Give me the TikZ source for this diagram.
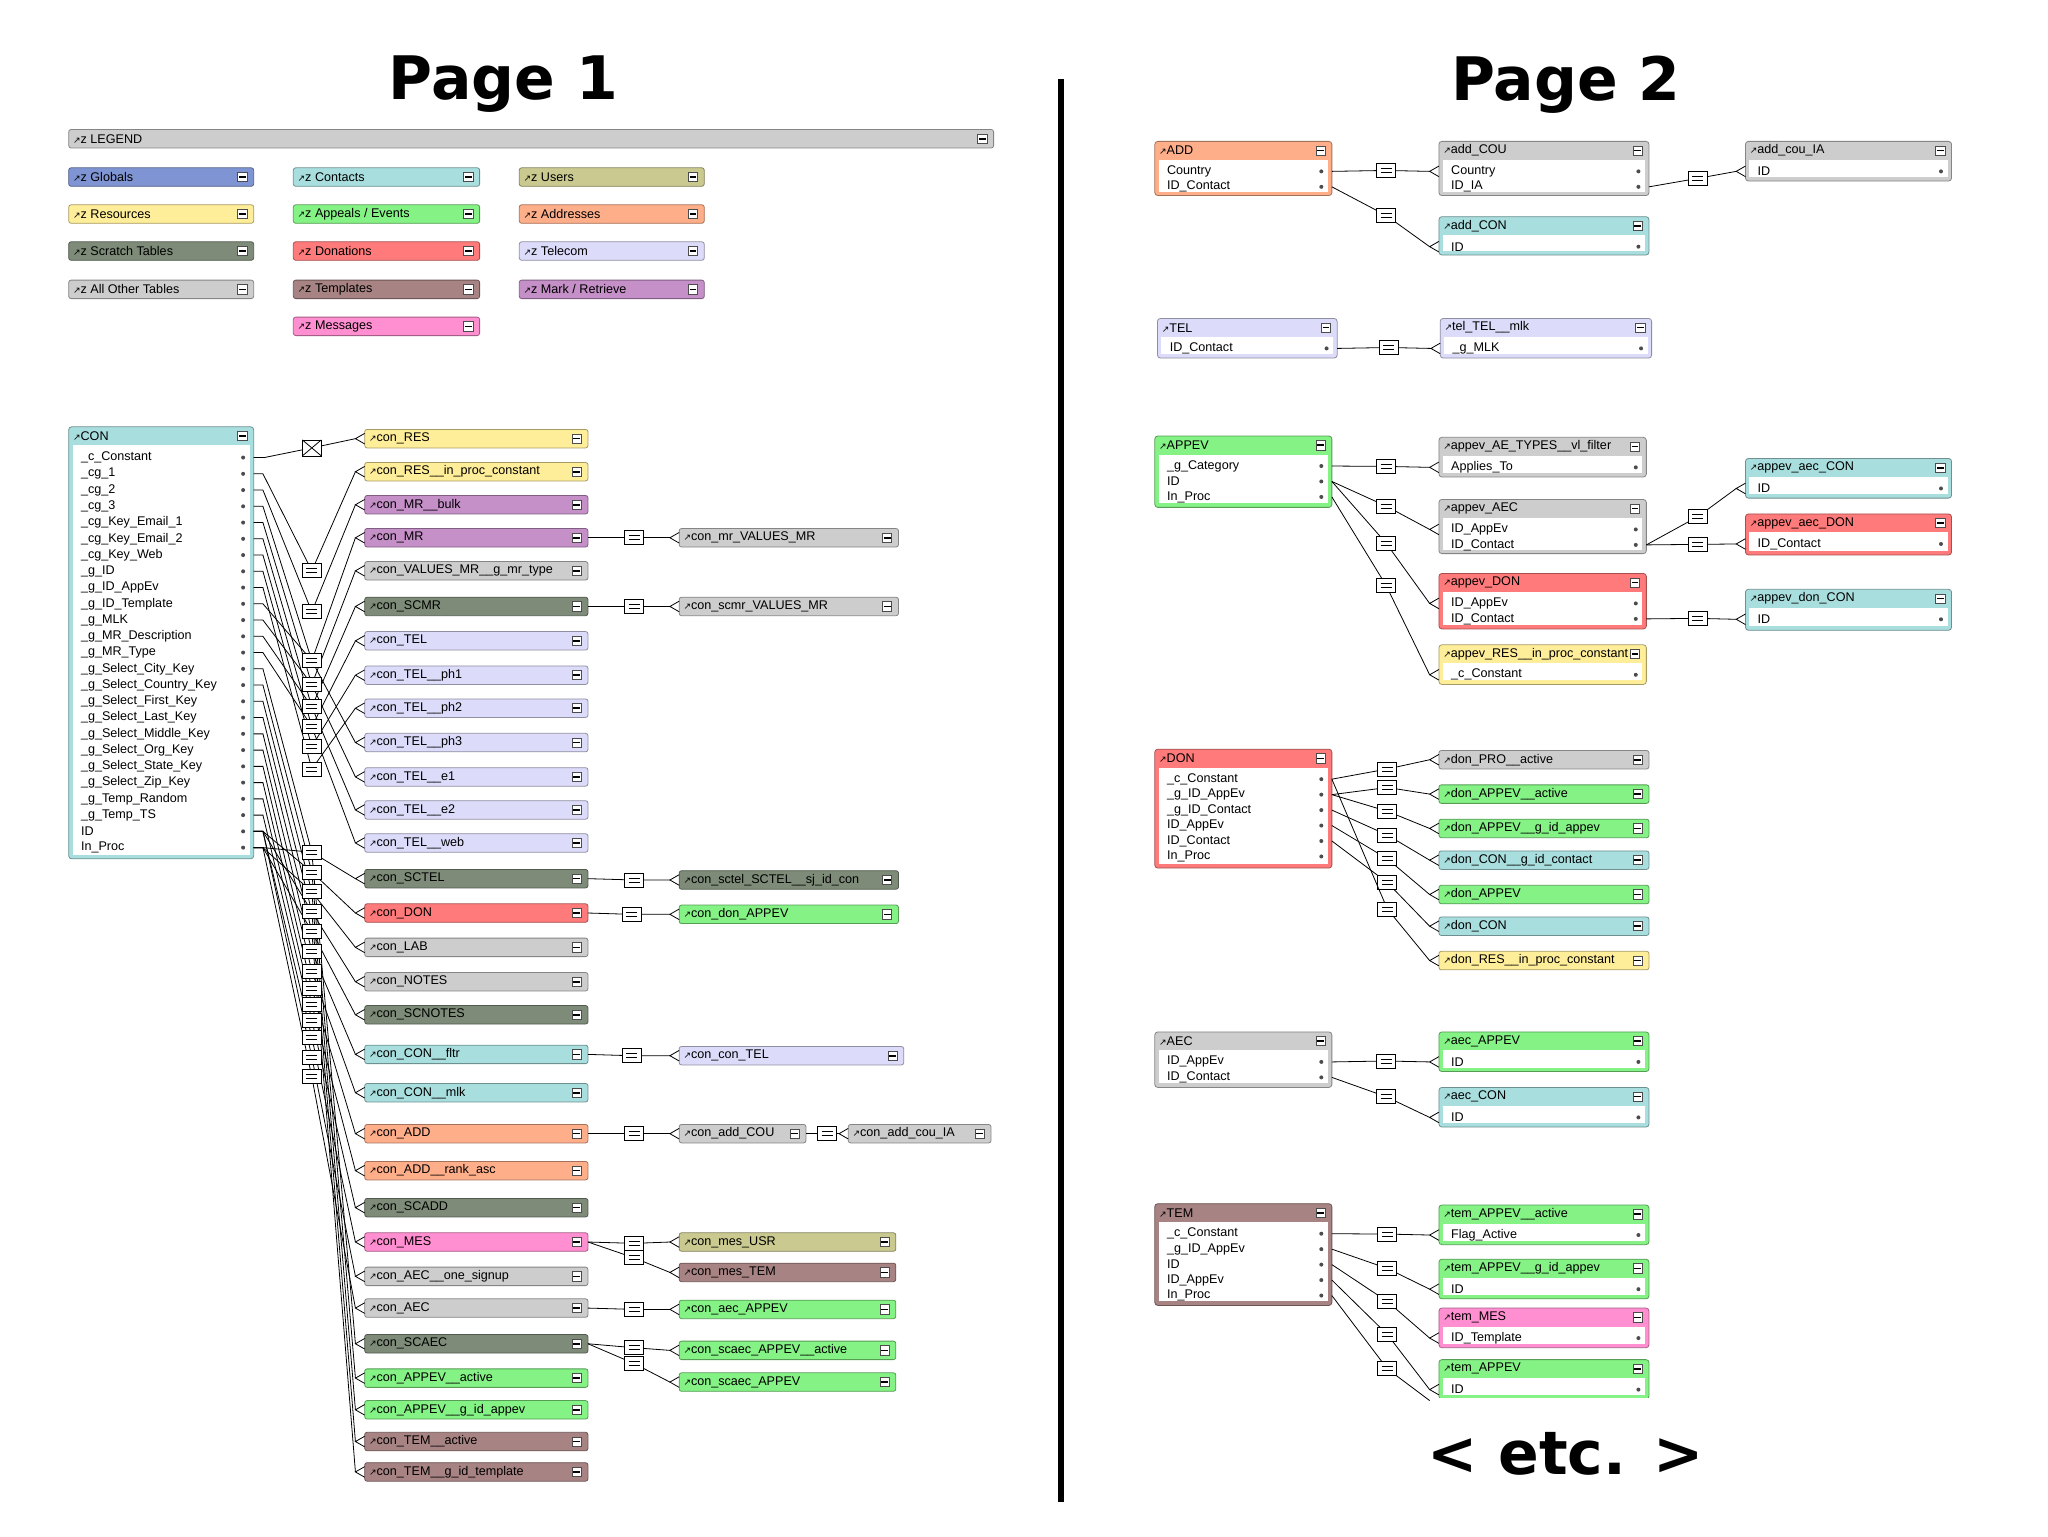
\documentclass[tikz,border=0pt]{standalone}
\usepackage{fontspec}
\usetikzlibrary{calc}
\setmainfont{Liberation Sans}
\newfontfamily\symf{DejaVu Sans}
\catcode`\_=12
\definecolor{cyn}{HTML}{A9DEDE}
\definecolor{yel}{HTML}{FFEE99}
\definecolor{pur}{HTML}{C58FC8}
\definecolor{gry}{HTML}{CDCDCD}
\definecolor{scr}{HTML}{7D8B78}
\definecolor{tel}{HTML}{DCDCFA}
\definecolor{red}{HTML}{FF7A7A}
\definecolor{grn}{HTML}{84F284}
\definecolor{org}{HTML}{FFAE8A}
\definecolor{brn}{HTML}{A88383}
\definecolor{pnk}{HTML}{FF8FD0}
\definecolor{olv}{HTML}{CACA90}
\definecolor{glb}{HTML}{7F95D3}
\newcommand\arr{{\symf\fontsize{4.5}{4.5}\selectfont ↗}}
\newcommand\tf{\fontsize{6.3}{7}\selectfont}
\def\fsp{11.7}
\newcommand\minb[2]{\draw[black!70,fill=white] (#1-12,#2-3.5) rectangle (#1-5,#2+3.5);
 \draw[line width=0.8pt] (#1-11,#2) -- (#1-6,#2);}
\newcommand\crow[1]{\draw ($(#1)+(7,-4)$) -- (#1) -- ($(#1)+(7,4)$);}
\newcommand\hdr[6]{%
 \draw[draw=#5!65!black,fill=#5,rounded corners=1.2pt] (#2,#3-7) rectangle (#4,#3+7);
 \node[txt] (#1) at (#2+3,#3) {\arr#6};
 \minb{#4}{#3}
 \coordinate (#1-w) at (#2-7,#3); \coordinate (#1-e) at (#4,#3);}
\newcommand\tbl[8]{%
 \draw[draw=#6!65!black,fill=#6,rounded corners=1.5pt] (#2,#3) rectangle (#4,#5);
 \fill[white] (#2+3,#3+14) rectangle (#4-3,#5-3);
 \node[txt] (#1) at (#2+3,#3+7) {\arr#7};
 \minb{#4}{#3+7}
 \foreach \f [count=\n] in {#8} {
  \node[txt] at (#2+9,#3+11+\n*\fsp) {\f};
  \fill[black!70] (#4-8,#3+11+\n*\fsp) circle (1pt);
  \coordinate (#1-f\n) at (#4,#3+11+\n*\fsp);
  \coordinate (#1-g\n) at (#2-7,#3+11+\n*\fsp);}}
\begin{document}
\begin{tikzpicture}[x=0.6606pt,y=-0.6606pt,
 txt/.style={anchor=west,font=\tf,inner sep=0},
 rel/.style={draw,fill=white,minimum width=9.5pt,minimum height=7pt,inner sep=0,
  path picture={\draw ([xshift=2pt,yshift=1pt]path picture bounding box.west) -- ([xshift=-2pt,yshift=1pt]path picture bounding box.east)
   ([xshift=2pt,yshift=-1pt]path picture bounding box.west) -- ([xshift=-2pt,yshift=-1pt]path picture bounding box.east);}},
 xbox/.style={draw,fill=white,minimum width=9.5pt,minimum height=8pt,inner sep=0,
  path picture={\draw (path picture bounding box.north west)--(path picture bounding box.south east) (path picture bounding box.south west)--(path picture bounding box.north east);}},
 ttl/.style={font=\symf\bfseries\fontsize{30}{34}\selectfont}]
\fill[white] (0,0) rectangle (1550,1162.6);
\useasboundingbox (0,0) rectangle (1550,1162.6);
\node[ttl] (t1) at (381,64) {Page 1};
\node[ttl] (t2) at (1185,64) {Page 2};
\node[ttl] (etc) at (1185,1100) {< etc. >};
\draw[line width=3.3pt] (803,60) -- (803,1137);
% legend
\hdr{lg}{52}{105}{752}{gry}{z LEGEND}
\hdr{l1}{52}{134}{192}{glb}{z Globals}
\hdr{l2}{52}{162}{192}{yel}{z Resources}
\hdr{l3}{52}{190}{192}{scr}{z Scratch Tables}
\hdr{l4}{52}{219}{192}{gry}{z All Other Tables}
\hdr{l5}{222}{134}{363}{cyn}{z Contacts}
\hdr{l6}{222}{162}{363}{grn}{z Appeals / Events}
\hdr{l7}{222}{190}{363}{red}{z Donations}
\hdr{l8}{222}{219}{363}{brn}{z Templates}
\hdr{l9}{222}{247}{363}{pnk}{z Messages}
\hdr{l10}{393}{134}{533}{olv}{z Users}
\hdr{l11}{393}{162}{533}{org}{z Addresses}
\hdr{l12}{393}{190}{533}{tel}{z Telecom}
\hdr{l13}{393}{219}{533}{pur}{z Mark / Retrieve}
% CON
\begingroup\def\fsp{12.3}
\tbl{CON}{52}{323}{192}{650}{cyn}{CON}{_c_Constant,_cg_1,_cg_2,_cg_3,_cg_Key_Email_1,_cg_Key_Email_2,_cg_Key_Web,_g_ID,_g_ID_AppEv,_g_ID_Template,_g_MLK,_g_MR_Description,_g_MR_Type,_g_Select_City_Key,_g_Select_Country_Key,_g_Select_First_Key,_g_Select_Last_Key,_g_Select_Middle_Key,_g_Select_Org_Key,_g_Select_State_Key,_g_Select_Zip_Key,_g_Temp_Random,_g_Temp_TS,ID,In_Proc}
\endgroup
\foreach \y/\c/\t [count=\i] in {332/yel/con_RES, 357/yel/con_RES__in_proc_constant, 382/pur/con_MR__bulk, 407/pur/con_MR, 432/gry/con_VALUES_MR__g_mr_type, 459/scr/con_SCMR, 485/tel/con_TEL, 511/tel/con_TEL__ph1, 536/tel/con_TEL__ph2, 562/tel/con_TEL__ph3, 588/tel/con_TEL__e1, 613/tel/con_TEL__e2, 638/tel/con_TEL__web, 665/scr/con_SCTEL, 691/red/con_DON, 717/gry/con_LAB, 743/gry/con_NOTES, 768/scr/con_SCNOTES, 798/cyn/con_CON__fltr, 827/cyn/con_CON__mlk, 858/org/con_ADD, 886/org/con_ADD__rank_asc, 914/scr/con_SCADD, 940/pnk/con_MES, 966/gry/con_AEC__one_signup, 990/gry/con_AEC, 1017/scr/con_SCAEC, 1043/grn/con_APPEV__active, 1067/grn/con_APPEV__g_id_appev, 1091/brn/con_TEM__active, 1114/brn/con_TEM__g_id_template}
 {\hdr{p\i}{276}{\y}{445}{\c}{\t}}
\draw (CON-f1) -- ++(8,0) -- (236,339) -- (p1-w); \crow{p1-w}
\node[xbox] (b1) at (236,339) {};
\foreach \i/\b/\k in {2/432/2,3/463/3,4/500/4,5/518/5,6/535/6,7/550/7,8/565/8,9/582/9,10/500/10,11/518/11,12/535/12,13/550/13,14/645/14,15/660/15,16/675/16,17/690/17,18/705/18,19/720/19,20/735/20,21/748/21,22/760/22,23/772/23,24/785/24,25/800/24,26/815/25,27/645/25,28/660/24,29/675/25,30/690/24,31/705/25}
 {\draw (CON-f\k) -- ++(7,0) -- (236,\b) -- (p\i-w); \crow{p\i-w}}
\foreach \i/\b in {2/432,3/463,4/500,5/518,6/535,7/550,8/565,9/582,14/645,15/660,16/675,17/690,18/705,19/720,20/735,21/748,22/760,23/772,24/785,25/800,26/815}
 {\node[rel] (b\i) at (236,\b) {};}
% page 1 right tables
\hdr{q1}{514}{407}{680}{gry}{con_mr_VALUES_MR}
\hdr{q2}{514}{459}{680}{gry}{con_scmr_VALUES_MR}
\hdr{q3}{514}{666}{680}{scr}{con_sctel_SCTEL__sj_id_con}
\hdr{q4}{514}{692}{680}{grn}{con_don_APPEV}
\hdr{q5}{514}{799}{684}{tel}{con_con_TEL}
\hdr{q6}{514}{858}{610}{gry}{con_add_COU}
\hdr{q7}{642}{858}{750}{gry}{con_add_cou_IA}
\hdr{q8}{514}{940}{678}{olv}{con_mes_USR}
\hdr{q9}{514}{963}{678}{brn}{con_mes_TEM}
\hdr{q10}{514}{991}{678}{grn}{con_aec_APPEV}
\hdr{q11}{514}{1022}{678}{grn}{con_scaec_APPEV__active}
\hdr{q12}{514}{1046}{678}{grn}{con_scaec_APPEV}
\foreach \a/\bb/\x/\y [count=\i] in {p4/q1/480/407,p6/q2/480/459,p14/q3/480/666,p15/q4/478/692,p19/q5/478/799,p21/q6/480/858,q6/q7/626/858,p24/q8/480/941,p24/q9/480/952,p26/q10/480/991,p27/q11/480/1020,p27/q12/480/1032}
 {\draw (\a-e) -- (\x,\y) -- (\bb-w); \crow{\bb-w} \node[rel] (r\i) at (\x,\y) {};}
% page 2
\tbl{ADD}{874}{107}{1008}{148}{org}{ADD}{Country,ID_Contact}
\tbl{aCOU}{1089}{107}{1248}{148}{gry}{add_COU}{Country,ID_IA}
\tbl{aIA}{1321}{107}{1477}{137}{gry}{add_cou_IA}{ID}
\tbl{aCON}{1089}{164}{1248}{193}{cyn}{add_CON}{ID}
\draw (ADD-f1) -- (1049,129) -- (aCOU-g1); \crow{aCOU-g1}
\draw (ADD-f2) -- (1049,163) -- (aCON-g1); \crow{aCON-g1}
\draw (aCOU-f2) -- (1285,135) -- (aIA-g1); \crow{aIA-g1}
\node[rel] (s1) at (1049,129) {}; \node[rel] (s2) at (1049,163) {}; \node[rel] (s3) at (1285,135) {};
\tbl{TEL}{876}{241}{1012}{271}{tel}{TEL}{ID_Contact}
\tbl{tMLK}{1090}{241}{1250}{271}{tel}{tel_TEL__mlk}{_g_MLK}
\draw (TEL-f1) -- (1051,263) -- (tMLK-g1); \crow{tMLK-g1} \node[rel] (s4) at (1051,263) {};
\tbl{APPEV}{874}{330}{1008}{384}{grn}{APPEV}{_g_Category,ID,In_Proc}
\tbl{aAE}{1089}{331}{1246}{361}{gry}{appev_AE_TYPES__vl_filter}{Applies_To}
\tbl{aAEC}{1089}{378}{1246}{419}{gry}{appev_AEC}{ID_AppEv,ID_Contact}
\tbl{aDON}{1089}{434}{1246}{476}{red}{appev_DON}{ID_AppEv,ID_Contact}
\tbl{aRES}{1089}{488}{1246}{518}{yel}{appev_RES__in_proc_constant}{_c_Constant}
\tbl{aaCON}{1321}{347}{1477}{377}{cyn}{appev_aec_CON}{ID}
\tbl{aaDON}{1321}{389}{1477}{420}{red}{appev_aec_DON}{ID_Contact}
\tbl{adCON}{1321}{446}{1477}{477}{cyn}{appev_don_CON}{ID}
\draw (APPEV-f1) -- (1049,353) -- (aAE-g1); \crow{aAE-g1}
\draw (APPEV-f2) -- (1049,383) -- (aAEC-g1); \crow{aAEC-g1}
\draw (APPEV-f2) -- (1049,411) -- (aDON-g1); \crow{aDON-g1}
\draw (APPEV-f3) -- (1049,443) -- (aRES-g1); \crow{aRES-g1}
\draw (aAEC-f2) -- (1285,391) -- (aaCON-g1); \crow{aaCON-g1}
\draw (aAEC-f2) -- (1285,412) -- (aaDON-g1); \crow{aaDON-g1}
\draw (aDON-f2) -- (1285,468) -- (adCON-g1); \crow{adCON-g1}
\foreach \x/\y [count=\i] in {1049/353,1049/383,1049/411,1049/443,1285/391,1285/412,1285/468} {\node[rel] (u\i) at (\x,\y) {};}
\tbl{DON}{874}{567}{1008}{657}{red}{DON}{_c_Constant,_g_ID_AppEv,_g_ID_Contact,ID_AppEv,ID_Contact,In_Proc}
\foreach \y/\c/\t/\k/\b [count=\i] in {575/gry/don_PRO__active/1/582, 601/grn/don_APPEV__active/2/596, 627/grn/don_APPEV__g_id_appev/2/614, 651/cyn/don_CON__g_id_contact/3/632, 677/grn/don_APPEV/4/650, 701/cyn/don_CON/5/668, 727/yel/don_RES__in_proc_constant/1/688}
 {\hdr{d\i}{1089}{\y}{1248}{\c}{\t}
  \draw (DON-f\k) -- (1050,\b) -- (d\i-w); \crow{d\i-w}
  \node[rel] (v\i) at (1050,\b) {};}
\tbl{AEC}{874}{781}{1008}{823}{gry}{AEC}{ID_AppEv,ID_Contact}
\tbl{eAP}{1089}{781}{1248}{811}{grn}{aec_APPEV}{ID}
\tbl{eCON}{1089}{823}{1248}{853}{cyn}{aec_CON}{ID}
\draw (AEC-f1) -- (1049,803) -- (eAP-g1); \crow{eAP-g1} \node[rel] (w1) at (1049,803) {};
\draw (AEC-f2) -- (1049,830) -- (eCON-g1); \crow{eCON-g1} \node[rel] (w2) at (1049,830) {};
\tbl{TEM}{874}{911}{1008}{988}{brn}{TEM}{_c_Constant,_g_ID_AppEv,ID,ID_AppEv,In_Proc}
\tbl{mA}{1089}{912}{1248}{942}{grn}{tem_APPEV__active}{Flag_Active}
\tbl{mG}{1089}{953}{1248}{983}{grn}{tem_APPEV__g_id_appev}{ID}
\tbl{mM}{1089}{990}{1248}{1020}{pnk}{tem_MES}{ID_Template}
\tbl{mP}{1089}{1029}{1248}{1059}{grn}{tem_APPEV}{ID}
\fill[white] (1080,1058) rectangle (1260,1075);
\coordinate (mX) at (1082,1060);
\draw (TEM-f1) -- (1050,934) -- (mA-g1); \crow{mA-g1}
\draw (TEM-f2) -- (1050,960) -- (mG-g1); \crow{mG-g1}
\draw (TEM-f3) -- (1050,985) -- (mM-g1); \crow{mM-g1}
\draw (TEM-f4) -- (1050,1010) -- (mP-g1); \crow{mP-g1}
\draw (TEM-f5) -- (1050,1036) -- (mX);
\foreach \y [count=\i] in {934,960,985,1010,1036} {\node[rel] (m\i) at (1050,\y) {};}
\end{tikzpicture}
\end{document}
